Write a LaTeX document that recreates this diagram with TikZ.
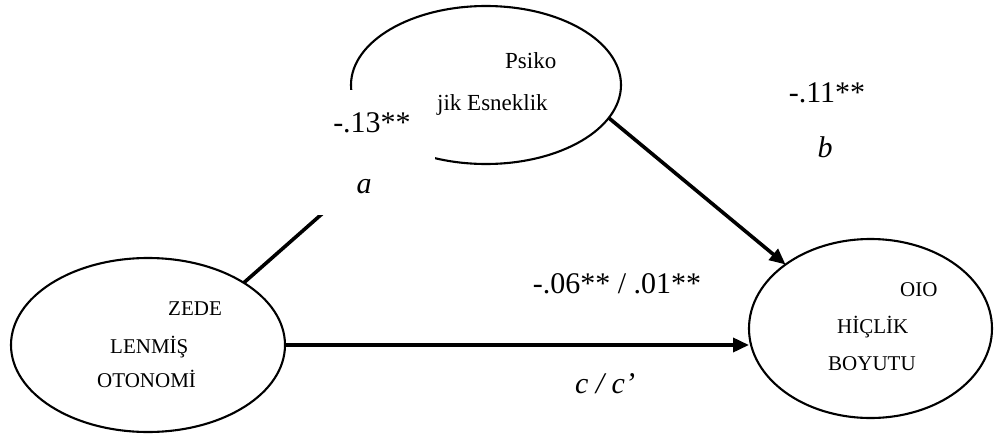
\documentclass[tikz,border=0pt]{standalone}
\usepackage{fontspec}
\setmainfont{Liberation Serif}
\usetikzlibrary{shapes.geometric, arrows.meta}

\begin{document}
\begin{tikzpicture}[x=1pt, y=-1pt,
    latent/.style={draw, ellipse, line width=2.1pt, inner sep=0pt, outer sep=0pt},
    intext/.style={anchor=base west, inner sep=0pt, font=\fontsize{21}{25}\selectfont},
    coef/.style={anchor=base, inner sep=0pt, font=\fontsize{30}{36}\selectfont},
    effect/.style={line width=3.6pt, -{Triangle[length=16pt, width=14pt]}}
]
    \useasboundingbox (0,0) rectangle (994,434);

    % Latent variables
    \node (zede) [latent, minimum width=274pt, minimum height=174pt] at (148,345) {};
    \node (hiclik) [latent, minimum width=243pt, minimum height=179pt] at (870.5,328.5) {};
    \node (psiko) [latent, minimum width=270pt, minimum height=158pt] at (486,85) {};

    % Paths a, b, c / c'
    \draw[effect] (zede.33) -- (psiko.215);
    \draw[effect] (psiko.-15) -- (hiclik.143);
    \draw[effect] (zede.east) -- (zede.east -| hiclik.west);

    % Text box of path a (hides part of the top ellipse)
    \node (abox) [fill=white, inner sep=0pt, minimum width=119pt, minimum height=125pt] at (375.5,152.5) {};

    % Coefficients
    \node (acoef) [coef] at (372,132) {-.13**};
    \node (alab) [coef, font=\fontsize{30}{36}\selectfont\itshape] at (364,193) {a};
    \node (bcoef) [coef] at (827,102) {-.11**};
    \node (blab) [coef, font=\fontsize{30}{36}\selectfont\itshape] at (825,157) {b};
    \node (ccoef) [coef] at (617,293) {-.06** / .01**};
    \node (clab) [coef, font=\fontsize{30}{36}\selectfont\itshape] at (605,393) {c / c’};

    % Texts of the ellipses
    \node (z1) [intext] at (168,315) {ZEDE};
    \node (z2) [intext] at (110,353) {LENMİŞ};
    \node (z3) [intext] at (97,387) {OTONOMİ};
    \node (h1) [intext] at (900,296) {OIO};
    \node (h2) [intext] at (837,333) {HİÇLİK};
    \node (h3) [intext] at (828,370) {BOYUTU};
    \node (p1) [intext, font=\fontsize{23}{27}\selectfont] at (505,68) {Psiko};
    \node (p2) [intext, font=\fontsize{23}{27}\selectfont] at (437,110) {jik Esneklik};
\end{tikzpicture}
\end{document}
